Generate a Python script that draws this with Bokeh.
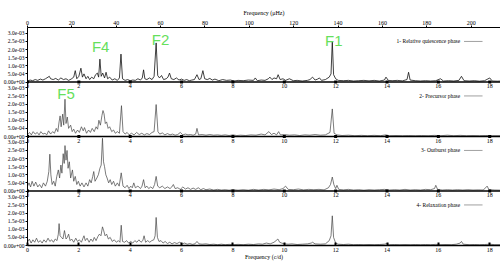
from bokeh.plotting import figure
from bokeh.models import Range1d, LinearAxis, FixedTicker, Span
from bokeh.core.properties import value
from bokeh.embed import file_html
from bokeh.resources import INLINE

# ---------------- data (amplitudes in units of 1e-3) ----------------
phase_names = ["1- Relative quiescence phase", "2- Precursor phase",
               "3- Outburst phase", "4- Relaxation phase"]

quiescence_freq = [0.0, 0.1, 0.2, 0.3, 0.4, 0.5, 0.6, 0.7, 0.8, 0.85, 0.9, 1.0, 1.1, 1.2, 1.3, 1.4, 1.5, 1.6, 1.7, 1.8,
                   1.86, 1.92, 2.0, 2.08, 2.14, 2.2, 2.28, 2.35, 2.42, 2.5, 2.58, 2.65, 2.72, 2.77, 2.82, 2.87, 2.93,
                   3.0, 3.06, 3.12, 3.2, 3.3, 3.4, 3.5, 3.58, 3.64, 3.7, 3.8, 3.9, 4.0, 4.1, 4.2, 4.3, 4.4, 4.47, 4.52,
                   4.57, 4.65, 4.75, 4.85, 4.93, 5.01, 5.07, 5.14, 5.22, 5.3, 5.4, 5.47, 5.53, 5.6, 5.7, 5.8, 5.9, 6.0,
                   6.1, 6.2, 6.3, 6.4, 6.5, 6.6, 6.68, 6.75, 6.83, 6.9, 7.0, 7.1, 7.2, 7.3, 7.45, 7.6, 7.75, 7.9, 8.05,
                   8.2, 8.4, 8.6, 8.8, 8.87, 8.95, 9.1, 9.25, 9.38, 9.44, 9.52, 9.6, 9.7, 9.76, 9.84, 9.95, 10.05, 10.2,
                   10.35, 10.5, 10.7, 10.9, 11.0, 11.1, 11.2, 11.3, 11.37, 11.45, 11.6, 11.75, 11.82, 11.87, 11.92, 12.0,
                   12.1, 12.3, 12.5, 12.7, 12.9, 13.1, 13.3, 13.5, 13.7, 13.9, 13.96, 14.05, 14.2, 14.4, 14.6, 14.78,
                   14.84, 14.9, 15.1, 15.3, 15.5, 15.7, 15.9, 16.08, 16.2, 16.4, 16.6, 16.8, 16.9, 17.0, 17.2, 17.4,
                   17.6, 17.8, 18.0, 18.1, 18.3, 18.45]
quiescence_amp = [0.05, 0.12, 0.08, 0.15, 0.1, 0.18, 0.12, 0.2, 0.3, 0.35, 0.2, 0.15, 0.22, 0.12, 0.25, 0.15, 0.2, 0.1, 0.18, 0.3,
                  0.7, 0.2, 0.35, 0.85, 0.3, 0.5, 0.2, 0.35, 0.15, 0.3, 0.2, 0.45, 0.55, 0.3, 1.41, 0.35, 0.55,
                  0.25, 0.6, 0.2, 0.3, 0.12, 0.2, 0.1, 0.25, 1.72, 0.2, 0.1, 0.15, 0.08, 0.12, 0.1, 0.2, 0.12, 0.25, 0.75,
                  0.2, 0.15, 0.25, 0.15, 0.35, 2.41, 0.4, 0.25, 0.4, 0.15, 0.2, 0.3, 0.55, 0.2, 0.15, 0.25, 0.12, 0.18,
                  0.1, 0.15, 0.08, 0.12, 0.15, 0.45, 0.15, 0.2, 0.7, 0.2, 0.15, 0.22, 0.12, 0.18, 0.08, 0.15, 0.1, 0.12, 0.06,
                  0.1, 0.08, 0.12, 0.1, 0.25, 0.08, 0.12, 0.1, 0.2, 0.3, 0.15, 0.25, 0.2, 0.45, 0.15, 0.2, 0.1, 0.2,
                  0.08, 0.1, 0.06, 0.1, 0.15, 0.3, 0.12, 0.18, 0.25, 0.1, 0.15, 0.3, 0.5, 2.5, 0.45, 0.2,
                  0.1, 0.08, 0.1, 0.06, 0.08, 0.1, 0.07, 0.1, 0.06, 0.12, 0.3, 0.1, 0.08, 0.1, 0.07, 0.15,
                  0.6, 0.12, 0.08, 0.06, 0.08, 0.06, 0.08, 0.2, 0.06, 0.08, 0.06, 0.1, 0.35, 0.08, 0.06, 0.08,
                  0.05, 0.08, 0.25, 0.06, 0.05, 0.06]

precursor_freq = [0.0, 0.08, 0.15, 0.22, 0.3, 0.38, 0.45, 0.52, 0.6, 0.68, 0.75, 0.82, 0.9, 0.98, 1.05, 1.12, 1.18, 1.23,
                  1.27, 1.31, 1.37, 1.41, 1.46, 1.5, 1.55, 1.6, 1.68, 1.74, 1.8, 1.87, 1.95, 2.02, 2.1, 2.17, 2.22, 2.3,
                  2.38, 2.45, 2.52, 2.6, 2.67, 2.73, 2.78, 2.84, 2.9, 2.94, 2.98, 3.03, 3.08, 3.14, 3.2, 3.28, 3.35,
                  3.42, 3.5, 3.58, 3.66, 3.72, 3.8, 3.88, 3.96, 4.05, 4.15, 4.25, 4.35, 4.45, 4.55, 4.65, 4.75, 4.85,
                  4.93, 5.01, 5.08, 5.15, 5.25, 5.35, 5.45, 5.55, 5.65, 5.75, 5.85, 5.95, 6.05, 6.15, 6.25, 6.35, 6.45,
                  6.55, 6.6, 6.66, 6.8, 6.95, 7.1, 7.25, 7.4, 7.55, 7.7, 7.85, 8.0, 8.15, 8.3, 8.5, 8.7, 8.9, 9.1, 9.25,
                  9.4, 9.5, 9.6, 9.7, 9.78, 9.85, 10.0, 10.2, 10.4, 10.6, 10.8, 11.0, 11.2, 11.4, 11.6, 11.78, 11.87,
                  11.94, 12.05, 12.25, 12.5, 12.75, 13.0, 13.25, 13.5, 13.75, 13.95, 14.1, 14.35, 14.6, 14.85, 15.1,
                  15.35, 15.6, 15.85, 16.1, 16.35, 16.6, 16.85, 17.1, 17.35, 17.6, 17.85, 18.1, 18.45]
precursor_amp = [0.1, 0.25, 0.1, 0.3, 0.15, 0.25, 0.1, 0.3, 0.15, 0.2, 0.1, 0.35, 0.15, 0.3, 0.2, 0.5, 0.3, 0.9,
                 1.27, 0.6, 1.38, 0.7, 2.3, 0.8, 1.2, 0.5, 0.7, 0.3, 0.45, 0.2, 0.4, 0.25, 0.6, 0.35, 0.55, 0.2,
                 0.4, 0.25, 0.5, 0.3, 0.6, 0.45, 1.0, 0.7, 1.3, 1.6, 1.4, 0.8, 0.9, 0.5, 0.6, 0.3, 0.4,
                 0.2, 0.3, 0.2, 1.9, 0.3, 0.15, 0.25, 0.1, 0.2, 0.1, 0.25, 0.12, 0.2, 0.1, 0.18, 0.12, 0.25,
                 0.3, 1.97, 0.3, 0.15, 0.22, 0.1, 0.18, 0.1, 0.15, 0.08, 0.12, 0.25, 0.1, 0.15, 0.1, 0.12, 0.08,
                 0.15, 0.5, 0.1, 0.12, 0.08, 0.12, 0.08, 0.1, 0.07, 0.1, 0.06, 0.1, 0.06, 0.08, 0.06, 0.1, 0.08, 0.15, 0.1,
                 0.3, 0.12, 0.2, 0.1, 0.3, 0.1, 0.12, 0.08, 0.1, 0.06, 0.1, 0.08, 0.12, 0.08, 0.1, 0.25, 1.7,
                 0.2, 0.1, 0.06, 0.08, 0.05, 0.07, 0.05, 0.07, 0.05, 0.1, 0.05, 0.06, 0.05, 0.06, 0.05,
                 0.06, 0.05, 0.07, 0.05, 0.08, 0.05, 0.07, 0.05, 0.06, 0.05, 0.06, 0.05, 0.05]

outburst_freq = [0.0, 0.06, 0.12, 0.18, 0.25, 0.32, 0.4, 0.47, 0.55, 0.62, 0.7, 0.77, 0.83, 0.87, 0.91, 0.96, 1.02, 1.08,
                 1.14, 1.2, 1.25, 1.3, 1.34, 1.39, 1.43, 1.46, 1.5, 1.54, 1.58, 1.63, 1.68, 1.75, 1.8, 1.86, 1.92, 1.98,
                 2.05, 2.12, 2.2, 2.28, 2.35, 2.42, 2.48, 2.54, 2.58, 2.63, 2.7, 2.76, 2.82, 2.87, 2.92, 2.96, 3.0,
                 3.05, 3.1, 3.16, 3.22, 3.28, 3.35, 3.42, 3.5, 3.57, 3.65, 3.72, 3.8, 3.88, 3.95, 4.02, 4.08, 4.14,
                 4.2, 4.3, 4.4, 4.46, 4.52, 4.58, 4.65, 4.72, 4.8, 4.88, 4.95, 5.01, 5.07, 5.15, 5.25, 5.35, 5.45,
                 5.55, 5.62, 5.68, 5.75, 5.85, 5.95, 6.05, 6.15, 6.25, 6.35, 6.45, 6.55, 6.65, 6.75, 6.85, 6.95, 7.1,
                 7.25, 7.4, 7.55, 7.7, 7.85, 8.0, 8.2, 8.4, 8.6, 8.8, 9.0, 9.2, 9.4, 9.6, 9.8, 9.95, 10.05, 10.15,
                 10.35, 10.55, 10.75, 10.95, 11.15, 11.35, 11.55, 11.72, 11.8, 11.87, 11.93, 12.0, 12.05, 12.12, 12.3,
                 12.5, 12.7, 12.9, 13.1, 13.3, 13.5, 13.7, 13.9, 14.1, 14.3, 14.5, 14.7, 14.9, 15.1, 15.3, 15.5, 15.7,
                 15.85, 15.9, 15.97, 16.15, 16.35, 16.55, 16.75, 16.95, 17.15, 17.35, 17.55, 17.75, 17.9, 17.97, 18.2,
                 18.45]
outburst_amp = [0.3, 0.5, 0.25, 0.6, 0.3, 0.55, 0.25, 0.4, 0.2, 0.5, 0.3, 0.6, 1.2, 2.27, 1.0, 0.4, 0.6, 0.3,
                0.9, 1.3, 0.8, 1.6, 1.1, 2.3, 1.7, 2.8, 1.9, 2.5, 1.4, 1.8, 0.8, 1.3, 0.6, 0.9, 0.4, 0.6,
                0.3, 0.5, 0.25, 0.5, 0.3, 0.7, 0.5, 0.9, 1.2, 0.6, 0.8, 1.0, 1.4, 1.6, 3.25, 1.8, 1.5,
                1.0, 0.8, 0.5, 0.7, 0.4, 0.6, 0.3, 0.5, 0.3, 1.12, 0.3, 0.2, 0.35, 0.15, 0.3, 0.2, 0.5,
                0.2, 0.3, 0.15, 0.3, 0.7, 0.2, 0.3, 0.15, 0.25, 0.15, 0.4, 0.9, 0.3, 0.2, 0.3, 0.15, 0.25,
                0.15, 0.25, 0.4, 0.15, 0.2, 0.1, 0.25, 0.12, 0.2, 0.1, 0.18, 0.1, 0.2, 0.08, 0.15, 0.08, 0.12,
                0.06, 0.1, 0.06, 0.08, 0.05, 0.08, 0.05, 0.08, 0.05, 0.1, 0.06, 0.1, 0.07, 0.12, 0.08, 0.15, 0.3, 0.1,
                0.08, 0.12, 0.07, 0.1, 0.08, 0.1, 0.07, 0.2, 0.4, 0.86, 0.4, 0.15, 0.35, 0.1, 0.07,
                0.1, 0.06, 0.08, 0.05, 0.08, 0.06, 0.08, 0.1, 0.06, 0.08, 0.06, 0.1, 0.06, 0.08, 0.06, 0.1, 0.08,
                0.15, 0.35, 0.1, 0.06, 0.08, 0.06, 0.08, 0.06, 0.08, 0.06, 0.07, 0.06, 0.3, 0.08, 0.06,
                0.05]

relaxation_freq = [0.0, 0.07, 0.14, 0.21, 0.28, 0.35, 0.42, 0.5, 0.57, 0.64, 0.72, 0.8, 0.87, 0.94, 1.01, 1.08, 1.15, 1.2,
                   1.23, 1.27, 1.32, 1.38, 1.44, 1.5, 1.55, 1.6, 1.66, 1.72, 1.8, 1.88, 1.95, 2.02, 2.1, 2.16, 2.2, 2.25,
                   2.32, 2.4, 2.47, 2.54, 2.6, 2.67, 2.74, 2.8, 2.86, 2.92, 2.97, 3.02, 3.08, 3.15, 3.22, 3.3, 3.38,
                   3.46, 3.54, 3.6, 3.65, 3.7, 3.78, 3.86, 3.94, 4.02, 4.1, 4.18, 4.26, 4.34, 4.42, 4.49, 4.54, 4.6,
                   4.68, 4.76, 4.84, 4.92, 4.97, 5.01, 5.06, 5.12, 5.2, 5.28, 5.36, 5.45, 5.54, 5.63, 5.72, 5.82, 5.92,
                   6.02, 6.12, 6.22, 6.32, 6.42, 6.52, 6.6, 6.68, 6.8, 6.95, 7.1, 7.25, 7.4, 7.55, 7.7, 7.85, 8.0, 8.2,
                   8.4, 8.6, 8.8, 9.0, 9.15, 9.3, 9.45, 9.6, 9.68, 9.75, 9.82, 9.9, 10.0, 10.15, 10.3, 10.5, 10.7, 10.9,
                   11.05, 11.1, 11.2, 11.4, 11.6, 11.75, 11.82, 11.87, 11.92, 12.0, 12.1, 12.3, 12.5, 12.7, 12.9, 13.1,
                   13.3, 13.5, 13.7, 13.9, 14.0, 14.1, 14.3, 14.5, 14.7, 14.9, 15.1, 15.3, 15.5, 15.7, 15.9, 16.1, 16.3,
                   16.5, 16.7, 16.85, 16.9, 16.97, 17.2, 17.4, 17.6, 17.8, 18.0, 18.2, 18.45]
relaxation_amp = [0.2, 0.4, 0.15, 0.35, 0.2, 0.45, 0.2, 0.3, 0.15, 0.35, 0.2, 0.45, 0.25, 0.35, 0.2, 0.4, 0.3, 0.7,
                  1.35, 0.6, 0.5, 0.4, 0.92, 0.4, 0.5, 0.7, 0.3, 0.4, 0.2, 0.45, 0.25, 0.35, 0.2, 0.45, 0.6, 0.3,
                  0.45, 0.2, 0.4, 0.25, 0.5, 0.3, 0.55, 0.7, 0.6, 1.15, 0.9, 0.6, 0.7, 0.4, 0.5, 0.25, 0.35,
                  0.2, 0.3, 0.2, 1.25, 0.25, 0.2, 0.3, 0.15, 0.25, 0.15, 0.3, 0.2, 0.35, 0.2, 0.3, 0.6, 0.2,
                  0.3, 0.2, 0.3, 0.35, 0.6, 1.73, 0.5, 0.25, 0.3, 0.15, 0.25, 0.12, 0.2, 0.1, 0.18, 0.12, 0.2,
                  0.1, 0.15, 0.08, 0.12, 0.07, 0.1, 0.25, 0.1, 0.08, 0.1, 0.06, 0.08, 0.05, 0.08, 0.05, 0.07, 0.05, 0.07,
                  0.05, 0.08, 0.06, 0.1, 0.08, 0.15, 0.1, 0.2, 0.3, 0.4, 0.2, 0.15, 0.1, 0.08, 0.1, 0.06, 0.08, 0.1,
                  0.15, 0.2, 0.1, 0.08, 0.1, 0.3, 0.6, 1.83, 0.5, 0.15, 0.08, 0.06, 0.08, 0.05, 0.06, 0.05,
                  0.06, 0.05, 0.06, 0.08, 0.12, 0.05, 0.06, 0.05, 0.06, 0.05, 0.06, 0.05, 0.06, 0.05, 0.07, 0.05, 0.06,
                  0.05, 0.08, 0.15, 0.25, 0.08, 0.05, 0.06, 0.05, 0.06, 0.08, 0.05, 0.05]

# amplitude tick values (in 1e-3) and their labels
amp_ticks = [0.0, 0.5, 1.0, 1.5, 2.0, 2.5, 3.0]
amp_labels = ["0.00e+00", "5.0e-04", "1.0e-03", "1.5e-03", "2.0e-03", "2.5e-03", "3.0e-03"]
cd_ticks = [0, 2, 4, 6, 8, 10, 12, 14, 16, 18]
uhz_ticks = [0, 20, 40, 60, 80, 100, 120, 140, 160, 180, 200]

# mode labels: name, panel index, frequency (c/d), height (1e-3)
mode_names = ["F4", "F2", "F1", "F5"]
mode_panel = [0, 0, 0, 1]
mode_freq = [2.85, 5.18, 11.93, 1.5]
mode_height = [2.2, 2.64, 2.58, 2.67]

# ---------------- layout / style ----------------
X_MAX = 18.42
CD_TO_UHZ = 11.574
PANEL_H = 3.36
SERIF = "Liberation Serif"
GREEN = "#66e05c"
line_colors = ["#111111", "#444444", "#444444", "#444444"]
line_widths = [0.8, 0.7, 0.7, 0.7]

p = figure(width=500, height=262, output_backend="svg", toolbar_location=None,
           x_range=Range1d(0, X_MAX), y_range=Range1d(0, 4 * PANEL_H))
p.min_border_left = 23
p.min_border_right = 0
p.min_border_top = 27
p.min_border_bottom = 12
p.outline_line_color = None
p.grid.visible = False
p.background_fill_color = "white"
p.border_fill_color = "white"

xax = p.below[0]
yax = p.left[0]

p.extra_x_ranges = {"uhz": Range1d(0, X_MAX * CD_TO_UHZ)}
top = LinearAxis(x_range_name="uhz", axis_label="Frequency (\u03bcHz)")
p.add_layout(top, "above")

offsets = [(3 - k) * PANEL_H for k in range(4)]

# y ticks for all panels
yt, ylab = [], {}
for off in offsets:
    for v, lab in zip(amp_ticks, amp_labels):
        t = round(off + v, 6)
        yt.append(t)
        ylab[t] = lab
yax.ticker = FixedTicker(ticks=yt)
yax.major_label_overrides = ylab
yax.minor_tick_line_color = None
yax.major_tick_out = 2
yax.major_tick_in = 0
yax.major_label_standoff = 1
yax.major_label_text_font = SERIF
yax.major_label_text_font_size = "5.5px"
yax.major_label_text_color = "black"
yax.axis_line_color = "black"

xax.ticker = FixedTicker(ticks=cd_ticks)
xax.axis_label = "Frequency (c/d)"
xax.major_tick_in = 3
xax.major_tick_out = 0
xax.major_tick_line_width = 2
xax.axis_line_width = 1.5
xax.minor_tick_line_color = None
xax.major_label_standoff = 2
xax.axis_label_standoff = -1

top.ticker = FixedTicker(ticks=uhz_ticks)
top.major_tick_in = 0
top.major_tick_out = 2
top.minor_tick_line_color = None
top.major_label_standoff = 1
top.axis_label_standoff = 2

for ax in (xax, top):
    ax.major_label_text_font = SERIF
    ax.major_label_text_font_size = "6px"
    ax.major_label_text_color = "black"
    ax.axis_label_text_font = SERIF
    ax.axis_label_text_font_size = "6px"
    ax.axis_label_text_font_style = "normal"
    ax.axis_label_text_color = "black"

series = [(quiescence_freq, quiescence_amp), (precursor_freq, precursor_amp),
          (outburst_freq, outburst_amp), (relaxation_freq, relaxation_amp)]

for k, ((f, a), off) in enumerate(zip(series, offsets)):
    p.line(f, [v + off for v in a], line_color=line_colors[k], line_width=line_widths[k])
    # legend entry (gnuplot style: text then line sample)
    p.text(x=[16.85], y=[off + 2.5], text=[phase_names[k]], text_align="right",
           text_baseline="middle", text_font=value(SERIF), text_font_size="5.5px",
           text_color="black")
    p.segment(x0=[17.0], y0=[off + 2.5], x1=[17.72], y1=[off + 2.5],
              line_color="#777777", line_width=0.7)
    if k < 3:
        p.add_layout(Span(location=off, dimension="width", line_color="black", line_width=1.5))
        p.scatter(x=cd_ticks, y=[off] * len(cd_ticks), marker="square", size=3,
                  color="black", line_width=0)
        p.text(x=cd_ticks, y=[off - 0.14] * len(cd_ticks), text=[str(t) for t in cd_ticks],
               text_align="center", text_baseline="top", text_font=value(SERIF),
               text_font_size="6px", text_color="black")

for name, k, fr, h in zip(mode_names, mode_panel, mode_freq, mode_height):
    p.text(x=[fr], y=[offsets[k] + h], text=[name], text_align="center",
           text_baseline="middle", text_color=GREEN, text_font=value("Liberation Sans"),
           text_font_size="15px")

open("out.html", "w").write(file_html(p, INLINE))
